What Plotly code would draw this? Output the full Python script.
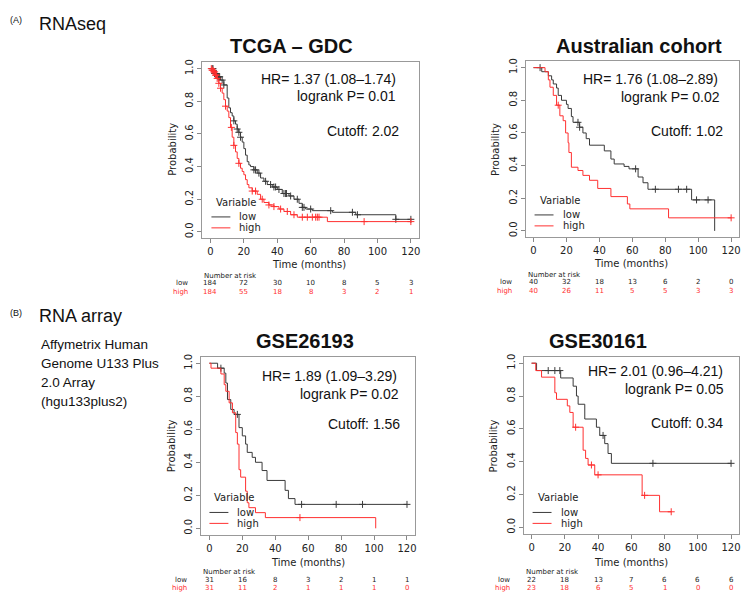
import plotly.graph_objects as go

# ---- data ----
months = [0, 20, 40, 60, 80, 100, 120]

# TCGA - GDC
tcga_low_t = [0, 2, 4, 6, 8, 10, 11, 12, 13, 14, 15, 16, 17, 18, 19, 20, 21, 22, 23, 24, 26, 28, 30, 32, 34, 37, 40, 43, 47, 50, 53, 55, 57, 61, 73, 87, 111]
tcga_low_s = [1.0, 0.97, 0.95, 0.93, 0.90, 0.82, 0.76, 0.73, 0.71, 0.68, 0.66, 0.63, 0.61, 0.58, 0.55, 0.51, 0.47, 0.43, 0.41, 0.40, 0.38, 0.36, 0.33, 0.31, 0.29, 0.275, 0.26, 0.235, 0.22, 0.20, 0.175, 0.15, 0.14, 0.13, 0.12, 0.105, 0.077]
tcga_low_cens = [1, 1.5, 2.5, 3, 3.5, 4.5, 5, 5.5, 7, 8, 14, 16, 17, 18, 26, 27, 29, 33, 36, 38, 39, 41, 44, 45, 45.5, 48, 52, 55, 56, 60, 72, 85, 88, 111, 120]
tcga_high_t = [0, 1, 2, 3, 4, 5, 6, 7, 8, 9, 10, 11, 12, 13, 14, 15, 16, 17, 18, 19, 20, 21, 22, 23, 25, 28, 30, 32, 35, 38, 41, 44, 48, 52, 70]
tcga_high_s = [1.0, 0.99, 0.98, 0.96, 0.94, 0.91, 0.88, 0.85, 0.81, 0.77, 0.74, 0.70, 0.64, 0.58, 0.53, 0.49, 0.45, 0.42, 0.39, 0.37, 0.35, 0.32, 0.29, 0.27, 0.25, 0.23, 0.20, 0.18, 0.165, 0.155, 0.14, 0.125, 0.105, 0.09, 0.063]
tcga_high_cens = [0.5, 1, 1.5, 2, 2.5, 3, 3.5, 4, 5, 6, 9, 12.5, 14, 17, 25, 27, 31, 35, 38, 42, 46, 50, 55, 58, 61, 63, 64, 65, 92, 120]
tcga_risk_low = [184, 72, 30, 10, 8, 5, 3]
tcga_risk_high = [184, 55, 18, 8, 3, 2, 1]
tcga_stats = ["HR= 1.37 (1.08–1.74)", "logrank P= 0.01", "Cutoff: 2.02"]

# Australian cohort
aus_low_t = [0, 5, 9, 11, 12, 14, 15, 17, 20, 21, 23, 24, 28, 30, 32, 34, 43, 47, 49, 55, 58, 63.5, 66.5, 69.5, 96, 110]
aus_low_s = [1.0, 0.975, 0.95, 0.925, 0.90, 0.875, 0.83, 0.80, 0.775, 0.75, 0.70, 0.665, 0.635, 0.60, 0.565, 0.525, 0.49, 0.44, 0.41, 0.395, 0.38, 0.33, 0.295, 0.255, 0.19, 0.0]
aus_low_cens = [4, 27, 28, 62, 74, 88, 93, 99, 106]
aus_high_t = [0, 7, 9, 10, 12, 14, 16, 18, 19.5, 21, 21.5, 23, 27, 30, 34, 39, 47, 57, 58.5, 82]
aus_high_s = [1.0, 0.975, 0.925, 0.88, 0.83, 0.77, 0.705, 0.675, 0.60, 0.54, 0.48, 0.39, 0.37, 0.34, 0.31, 0.26, 0.21, 0.165, 0.135, 0.08]
aus_high_cens = [15, 120]
aus_risk_low = [40, 32, 18, 13, 6, 2, 0]
aus_risk_high = [40, 26, 11, 5, 5, 3, 3]
aus_stats = ["HR= 1.76 (1.08–2.89)", "logrank P= 0.02", "Cutoff: 1.02"]

# GSE26193
g26_low_t = [0, 5, 9, 10, 11, 13, 15, 18, 20, 22, 23, 26, 28, 32, 35, 46, 48, 52]
g26_low_s = [1.0, 0.97, 0.94, 0.88, 0.78, 0.72, 0.69, 0.61, 0.56, 0.51, 0.46, 0.43, 0.40, 0.35, 0.29, 0.23, 0.18, 0.145]
g26_low_cens = [7, 17, 56, 77, 93, 120]
g26_high_t = [0, 1, 7, 9, 10, 12, 14, 16, 17, 18, 19, 22, 23, 24, 28, 34, 101]
g26_high_s = [1.0, 0.97, 0.935, 0.87, 0.83, 0.76, 0.70, 0.58, 0.51, 0.355, 0.31, 0.225, 0.155, 0.125, 0.095, 0.065, 0.0]
g26_high_cens = [55]
g26_risk_low = [31, 16, 8, 3, 2, 1, 1]
g26_risk_high = [31, 11, 2, 1, 1, 1, 0]
g26_stats = ["HR= 1.89 (1.09–3.29)", "logrank P= 0.02", "Cutoff: 1.56"]

# GSE30161
g30_low_t = [0, 3, 17.5, 25, 27, 28, 32, 39, 41, 44, 46, 48]
g30_low_s = [1.0, 0.955, 0.91, 0.86, 0.80, 0.75, 0.66, 0.61, 0.56, 0.51, 0.45, 0.39]
g30_low_cens = [10, 14, 17, 43, 73, 120]
g30_high_t = [0, 2.5, 6, 14, 15, 21.5, 23, 25, 31, 32.5, 34, 38, 66.5, 77]
g30_high_s = [1.0, 0.955, 0.915, 0.82, 0.78, 0.74, 0.70, 0.61, 0.47, 0.42, 0.38, 0.32, 0.195, 0.095]
g30_high_cens = [26.5, 36, 40, 68, 84]
g30_risk_low = [22, 18, 13, 7, 6, 6, 6]
g30_risk_high = [23, 18, 6, 5, 1, 0, 0]
g30_stats = ["HR= 2.01 (0.96–4.21)", "logrank P= 0.05", "Cutoff: 0.34"]

# ---- layout helpers (pixel -> paper) ----
W, H = 753, 601
def px(x): return x / W
def py(y): return 1 - y / H

LOW_C = "#3a3a3a"
HIGH_C = "#ff3030"
CAL = "Liberation Sans, Arial, sans-serif"
RF = "DejaVu Sans, sans-serif"

def surv_at(ts, ss, t):
    v = ss[0]
    for a, b in zip(ts, ss):
        if a <= t:
            v = b
    return v

panels = [
    dict(title="TCGA – GDC", low=(tcga_low_t, tcga_low_s, tcga_low_cens), high=(tcga_high_t, tcga_high_s, tcga_high_cens),
         risk=(tcga_risk_low, tcga_risk_high), stats=tcga_stats,
         box=(203, 420, 59.4, 236.6), tpos=(292, 43), spos=[(399, 76), (399, 93), (402, 129)],
         leg=(212, 200), xt=(310, 263), yt=(173, 147), rk=(203, 191, 274)),
    dict(title="Australian cohort", low=(aus_low_t, aus_low_s, aus_low_cens), high=(aus_high_t, aus_high_s, aus_high_cens),
         risk=(aus_risk_low, aus_risk_high), stats=aus_stats,
         box=(527, 741, 58.4, 235.6), tpos=(641, 43), spos=[(722, 76), (724, 94), (727, 129)],
         leg=(536, 198), xt=(633, 262), yt=(497, 147), rk=(527, 515, 273)),
    dict(title="GSE26193", low=(g26_low_t, g26_low_s, g26_low_cens), high=(g26_high_t, g26_high_s, g26_high_cens),
         risk=(g26_risk_low, g26_risk_high), stats=g26_stats,
         box=(202, 416, 355.4, 534.6), tpos=(306, 340), spos=[(400, 375), (402, 393), (403, 423)],
         leg=(210, 497), xt=(309, 562), yt=(172, 445), rk=(202, 190, 572)),
    dict(title="GSE30161", low=(g30_low_t, g30_low_s, g30_low_cens), high=(g30_high_t, g30_high_s, g30_high_cens),
         risk=(g30_risk_low, g30_risk_high), stats=g30_stats,
         box=(525, 741, 355.4, 533.6), tpos=(600, 340), spos=[(727, 370), (728, 388), (727, 422)],
         leg=(534, 497), xt=(633, 562), yt=(495, 445), rk=(525, 513, 572)),
]

fig = go.Figure()
ann = []
shapes = []

for i, p in enumerate(panels):
    sfx = "" if i == 0 else str(i + 1)
    xa, ya = "x" + sfx, "y" + sfx
    for (ts, ss, cens), col in [(p["low"], LOW_C), (p["high"], HIGH_C)]:
        end = max(ts[-1], max(cens))
        fig.add_trace(go.Scatter(x=ts + [end], y=ss + [ss[-1]], mode="lines", line=dict(color=col, width=1, shape="hv"),
                                 xaxis=xa, yaxis=ya, showlegend=False, hoverinfo="skip"))
        fig.add_trace(go.Scatter(x=cens, y=[surv_at(ts, ss, c) for c in cens], mode="markers",
                                 marker=dict(symbol="cross-thin", size=5, line=dict(color=col, width=1)),
                                 xaxis=xa, yaxis=ya, showlegend=False, hoverinfo="skip"))
    l, r, t, b = p["box"]
    axx = dict(domain=[px(l), px(r)], range=[-4.8, 124.8], tickvals=months, ticks="outside", ticklen=4,
               tickcolor="#888", showline=True, linecolor="#999", mirror=True, showgrid=False, zeroline=False,
               tickfont=dict(family=RF, size=10, color="#222"), anchor=ya, fixedrange=True)
    axy = dict(domain=[py(b), py(t)], range=[-0.04, 1.04], tickvals=[0, 0.2, 0.4, 0.6, 0.8, 1.0], tickformat=".1f",
               ticks="outside", ticklen=4, tickcolor="#888", showline=True, linecolor="#999", mirror=True,
               showgrid=False, zeroline=False, tickangle=-90, tickfont=dict(family=RF, size=10, color="#222"),
               anchor=xa, fixedrange=True)
    fig.update_layout(**{"xaxis" + sfx: axx, "yaxis" + sfx: axy})

    ann.append(dict(text="<b>" + p["title"] + "</b>", x=px(p["tpos"][0]), y=py(p["tpos"][1]), xref="paper", yref="paper",
                    showarrow=False, font=dict(family=CAL, size=20, color="#111"), xanchor="center", yanchor="middle"))
    for txt, (sx, sy) in zip(p["stats"], p["spos"]):
        ann.append(dict(text=txt, x=px(sx), y=py(sy), xref="paper", yref="paper", showarrow=False,
                        font=dict(family=CAL, size=14, color="#111"), xanchor="right", yanchor="middle"))
    # legend
    lx, ly = p["leg"]
    ann.append(dict(text="Variable", x=px(lx + 3), y=py(ly), xref="paper", yref="paper", showarrow=False,
                    font=dict(family=RF, size=10, color="#222"), xanchor="left", yanchor="middle"))
    for k, (lab, col) in enumerate([("low", LOW_C), ("high", HIGH_C)]):
        yy = ly + 15 + 11 * k
        shapes.append(dict(type="line", xref="paper", yref="paper", x0=px(lx), x1=px(lx + 19), y0=py(yy), y1=py(yy),
                           line=dict(color=col, width=1)))
        ann.append(dict(text=lab, x=px(lx + 26), y=py(yy), xref="paper", yref="paper", showarrow=False,
                        font=dict(family=RF, size=10, color="#222"), xanchor="left", yanchor="middle"))
    # axis titles
    ann.append(dict(text="Time (months)", x=px(p["xt"][0]), y=py(p["xt"][1]), xref="paper", yref="paper", showarrow=False,
                    font=dict(family=RF, size=10, color="#222"), xanchor="center", yanchor="middle"))
    ann.append(dict(text="Probability", x=px(p["yt"][0]), y=py(p["yt"][1]), xref="paper", yref="paper", showarrow=False,
                    font=dict(family=RF, size=10, color="#222"), xanchor="center", yanchor="middle", textangle=-90))
    # number at risk
    nx, rx, ny = p["rk"]
    ann.append(dict(text="Number at risk", x=px(nx), y=py(ny), xref="paper", yref="paper", showarrow=False,
                    font=dict(family=RF, size=7, color="#222"), xanchor="left", yanchor="middle"))
    for k, (lab, vals, col) in enumerate([("low", p["risk"][0], "#222"), ("high", p["risk"][1], HIGH_C)]):
        yy = ny + 7.5 + 8.5 * k
        ann.append(dict(text=lab, x=px(rx), y=py(yy), xref="paper", yref="paper", showarrow=False,
                        font=dict(family=RF, size=7, color=col), xanchor="right", yanchor="middle"))
        for m, v in zip(months, vals):
            ann.append(dict(text=str(v), x=m, y=py(yy), xref=xa, yref="paper", showarrow=False,
                            font=dict(family=RF, size=7, color=col), xanchor="center", yanchor="middle"))

# section labels
ann.append(dict(text="(A)", x=px(8), y=py(17), xref="paper", yref="paper", showarrow=False,
                font=dict(family=CAL, size=9, color="#111"), xanchor="left", yanchor="middle"))
ann.append(dict(text="RNAseq", x=px(37), y=py(21), xref="paper", yref="paper", showarrow=False,
                font=dict(family=CAL, size=18, color="#111"), xanchor="left", yanchor="middle"))
ann.append(dict(text="(B)", x=px(8), y=py(312), xref="paper", yref="paper", showarrow=False,
                font=dict(family=CAL, size=9, color="#111"), xanchor="left", yanchor="middle"))
ann.append(dict(text="RNA array", x=px(37), y=py(315), xref="paper", yref="paper", showarrow=False,
                font=dict(family=CAL, size=18, color="#111"), xanchor="left", yanchor="middle"))
for k, line in enumerate(["Affymetrix Human", "Genome U133 Plus", "2.0 Array", "(hgu133plus2)"]):
    ann.append(dict(text=line, x=px(39), y=py(343 + 19 * k), xref="paper", yref="paper", showarrow=False,
                    font=dict(family=CAL, size=13.5, color="#111"), xanchor="left", yanchor="middle"))

fig.update_layout(width=W, height=H, margin=dict(l=0, r=0, t=0, b=0), paper_bgcolor="white",
                  plot_bgcolor="white", annotations=ann, shapes=shapes, showlegend=False)
# drop the browser's default 8px body margin so the figure fills the window
fig.write_html("out.html", config={"displayModeBar": False},
               post_script="document.body.style.margin='0px';")
